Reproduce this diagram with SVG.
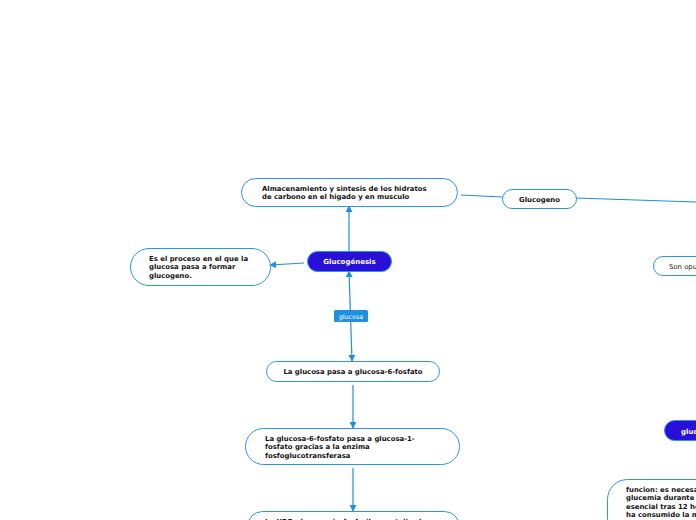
<svg xmlns="http://www.w3.org/2000/svg" width="696" height="520" viewBox="0 0 696 520">
<style>
.n{fill:#fff;stroke:#2a96e6;stroke-width:1}
.p{fill:#2a0fd8;stroke:#2a96e6;stroke-width:1}
.t{font-family:"DejaVu Sans",Verdana,sans-serif;font-size:6.9px;font-weight:bold;fill:#111}
.w{font-family:"DejaVu Sans",Verdana,sans-serif;font-size:7px;font-weight:bold;fill:#fff}
.r{font-family:"DejaVu Sans",Verdana,sans-serif;font-size:6.9px;fill:#222}
.c{fill:none;stroke:#1e8fdc;stroke-width:1.2}
</style>
<defs>
<marker id="a" viewBox="0 0 10 10" refX="9" refY="5" markerWidth="7" markerHeight="7" orient="auto-start-reverse" markerUnits="userSpaceOnUse">
<path d="M0,0 L10,5 L0,10 z" fill="#1e8fdc"/>
</marker>
</defs>
<rect width="696" height="520" fill="#fff"/>
<g id="connectors">
<path class="c" d="M461,195 L502,197"/>
<path class="c" d="M576,198 L696,202"/>
<path class="c" d="M349,251 L349,206" marker-end="url(#a)"/>
<path class="c" d="M304,263 L270,265" marker-end="url(#a)"/>
<path class="c" d="M349,271 L352,361" marker-start="url(#a)" marker-end="url(#a)"/>
<path class="c" d="M353,385 L353,428" marker-end="url(#a)"/>
<path class="c" d="M353,468 L353,511" marker-end="url(#a)"/>
<rect x="334" y="310" width="34" height="12" rx="1.5" fill="#1e90e0"/>
<text x="351" y="318.5" text-anchor="middle" font-family="DejaVu Sans,sans-serif" font-size="6.4" fill="#fff">glucosa</text>
</g>
<g id="n1">
<rect class="n" x="241.5" y="178.5" width="216" height="28" rx="14"/>
<text class="t" x="262" y="190.5">Almacenamiento y sintesis de los hidratos</text>
<text class="t" x="262" y="199">de carbono en el higado y en musculo</text>
</g>
<g id="n2">
<rect class="n" x="502.5" y="189.5" width="74" height="19" rx="9.5"/>
<text class="t" x="539.5" y="201.5" text-anchor="middle">Glucogeno</text>
</g>
<g id="n3">
<rect class="n" x="653.5" y="256.5" width="70" height="19" rx="9.5"/>
<text class="r" x="669" y="269">Son opuestos</text>
</g>
<g id="n4">
<rect class="p" x="307.5" y="251.5" width="84" height="20" rx="10"/>
<text class="w" x="349.5" y="264" text-anchor="middle">Glucogénesis</text>
</g>
<g id="n5">
<rect class="n" x="130.5" y="248.5" width="140" height="37" rx="18.5"/>
<text class="t" x="149" y="260.5">Es el proceso en el que la</text>
<text class="t" x="149" y="269">glucosa pasa a formar</text>
<text class="t" x="149" y="277.5">glucogeno.</text>
</g>
<g id="n6">
<rect class="n" x="266.5" y="361.5" width="173" height="20" rx="10"/>
<text class="t" x="353" y="373.8" text-anchor="middle">La glucosa pasa a glucosa-6-fosfato</text>
</g>
<g id="n7">
<rect class="n" x="245.5" y="428.5" width="214" height="36" rx="18"/>
<text class="t" x="265" y="440.5">La glucosa-6-fosfato pasa a glucosa-1-</text>
<text class="t" x="265" y="449">fosfato gracias a la enzima</text>
<text class="t" x="265" y="457.5">fosfoglucotransferasa</text>
</g>
<g id="n8">
<rect class="n" x="247.5" y="511.5" width="212" height="30" rx="15"/>
<text class="t" x="265" y="523.5">La UDP-glucosa pirofosforilasa cataliza la</text>
</g>
<g id="n9">
<rect class="p" x="664.5" y="420.5" width="80" height="20" rx="10"/>
<text class="w" x="681" y="433.5">glucogenólisis</text>
</g>
<g id="n10">
<rect class="n" x="607.5" y="479.5" width="140" height="60" rx="20"/>
<text class="t" x="626" y="491.5">funcion: es necesaria para mantener la</text>
<text class="t" x="626" y="500">glucemia durante el ayuno, siendo</text>
<text class="t" x="626" y="508.5">esencial tras 12 horas despues que se</text>
<text class="t" x="626" y="517">ha consumido la mayor parte</text>
</g>
</svg>
